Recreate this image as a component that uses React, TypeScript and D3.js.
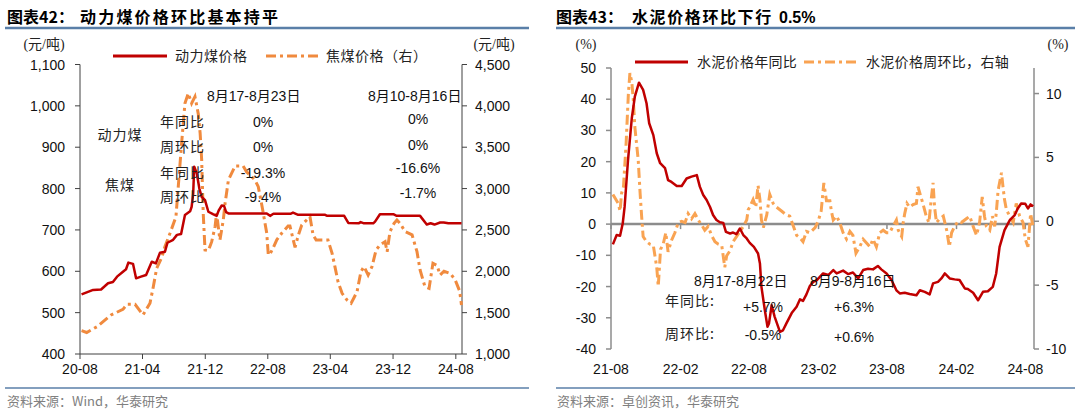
import React from 'react';
import * as d3 from 'd3';

// ---------- Left chart data (动力煤 / 焦煤) ----------
const thermalCoal: [string, number][] = [
  ['2020-08-07', 544], ['2020-09-21', 555], ['2020-10-22', 556], ['2020-11-18', 571],
  ['2020-12-07', 574], ['2020-12-23', 587], ['2021-01-15', 599], ['2021-01-27', 605],
  ['2021-02-05', 621], ['2021-02-23', 618], ['2021-03-07', 583], ['2021-03-26', 587],
  ['2021-04-15', 591], ['2021-05-07', 623], ['2021-05-23', 619], ['2021-06-08', 645],
  ['2021-06-27', 647], ['2021-07-07', 669], ['2021-07-29', 676], ['2021-08-13', 688],
  ['2021-08-29', 690], ['2021-09-13', 736], ['2021-10-03', 745], ['2021-10-09', 756],
  ['2021-10-15', 788], ['2021-10-19', 853], ['2021-10-29', 837], ['2021-11-08', 800],
  ['2021-11-17', 780], ['2021-11-30', 772], ['2021-12-13', 744], ['2021-12-31', 738],
  ['2022-01-14', 734], ['2022-01-23', 748], ['2022-02-03', 759], ['2022-02-12', 758],
  ['2022-02-20', 743], ['2022-03-01', 740], ['2022-07-28', 740], ['2022-08-10', 734],
  ['2022-08-23', 739], ['2022-10-28', 739], ['2022-11-07', 742], ['2022-11-25', 737],
  ['2023-03-10', 737], ['2023-03-20', 734], ['2023-05-25', 734], ['2023-06-10', 717],
  ['2023-07-20', 716], ['2023-07-28', 719], ['2023-08-10', 716], ['2023-09-15', 716],
  ['2023-09-22', 720], ['2023-10-11', 738], ['2023-12-02', 738], ['2023-12-15', 734],
  ['2024-03-15', 734], ['2024-04-10', 713], ['2024-04-25', 716], ['2024-05-10', 713],
  ['2024-06-01', 718], ['2024-06-15', 718], ['2024-07-03', 716], ['2024-08-23', 716],
];

const cokingCoal: [string, number][] = [
  ['2020-08-07', 1282], ['2020-08-27', 1260], ['2020-10-06', 1330], ['2020-11-30', 1472],
  ['2021-01-15', 1540], ['2021-01-31', 1601], ['2021-03-03', 1601], ['2021-04-03', 1472],
  ['2021-04-30', 1613], ['2021-05-13', 1814], ['2021-05-26', 2036], ['2021-06-16', 2177],
  ['2021-06-27', 2298], ['2021-07-17', 2460], ['2021-08-09', 2660], ['2021-08-18', 3023],
  ['2021-08-31', 3548], ['2021-09-13', 4031], ['2021-09-26', 4152], ['2021-10-09', 4031],
  ['2021-10-22', 4111], ['2021-11-04', 3900], ['2021-11-11', 3669], ['2021-11-17', 3346],
  ['2021-11-23', 2701], ['2021-11-30', 2257], ['2021-12-13', 2250], ['2021-12-26', 2358],
  ['2022-01-08', 2539], ['2022-01-14', 2701], ['2022-01-27', 2378], ['2022-02-09', 2620],
  ['2022-02-16', 2822], ['2022-03-01', 3104], ['2022-03-27', 3273], ['2022-04-27', 3273],
  ['2022-05-11', 3200], ['2022-06-12', 3104], ['2022-06-25', 3023], ['2022-07-10', 2781],
  ['2022-07-28', 2460], ['2022-08-03', 2197], ['2022-08-10', 2210], ['2022-08-23', 2290],
  ['2022-09-05', 2380], ['2022-09-24', 2460], ['2022-10-19', 2548], ['2022-10-26', 2548],
  ['2022-11-08', 2380], ['2022-11-15', 2290], ['2022-11-28', 2440], ['2022-12-11', 2560],
  ['2022-12-30', 2620], ['2023-01-12', 2660], ['2023-01-24', 2440], ['2023-02-05', 2378],
  ['2023-03-23', 2378], ['2023-04-08', 2217], ['2023-04-19', 2056], ['2023-05-01', 1874],
  ['2023-05-17', 1734], ['2023-06-05', 1653], ['2023-06-21', 1613], ['2023-07-02', 1680],
  ['2023-07-14', 1753], ['2023-07-29', 1995], ['2023-08-10', 2056], ['2023-08-26', 1955],
  ['2023-09-10', 2056], ['2023-09-26', 2258], ['2023-10-11', 2318], ['2023-10-31', 2358],
  ['2023-11-08', 2237], ['2023-11-19', 2479], ['2023-12-05', 2580], ['2023-12-16', 2620],
  ['2023-12-28', 2580], ['2024-01-17', 2479], ['2024-02-13', 2440], ['2024-03-03', 2237],
  ['2024-03-15', 2016], ['2024-04-03', 1814], ['2024-04-19', 1794], ['2024-05-04', 2097],
  ['2024-05-20', 2070], ['2024-06-01', 1955], ['2024-06-16', 2000], ['2024-07-10', 1975],
  ['2024-07-29', 1900], ['2024-08-16', 1760], ['2024-08-23', 1592],
];

const coalXDomain = ['2020-08-01', '2024-08-25'];
const coalXTicks = ['2020-08-01', '2021-04-01', '2021-12-01', '2022-08-01', '2023-04-01', '2023-12-01', '2024-08-01'];
const coalLeftTicks = [400, 500, 600, 700, 800, 900, 1000, 1100];
const coalRightTicks = [1000, 1500, 2000, 2500, 3000, 3500, 4000, 4500];

// ---------- Right chart data (水泥) ----------
const cementYoY: [string, number][] = [
  ['2021-08-06', -6.5], ['2021-08-16', -3.5], ['2021-08-25', -3.7], ['2021-09-01', 0.2],
  ['2021-09-06', 5.5], ['2021-09-15', 20.5], ['2021-09-25', 33.9], ['2021-10-03', 40.8],
  ['2021-10-14', 45.3], ['2021-10-25', 43], ['2021-11-03', 38.7], ['2021-11-10', 32.3],
  ['2021-11-21', 28.5], ['2021-11-30', 22.7], ['2021-12-09', 19.5], ['2021-12-22', 17.9],
  ['2021-12-30', 14.1], ['2022-01-08', 13.5], ['2022-01-22', 12.2], ['2022-02-04', 12.2],
  ['2022-02-17', 14.6], ['2022-03-02', 15.2], ['2022-03-16', 15.7], ['2022-03-24', 12],
  ['2022-04-02', 9.3], ['2022-04-11', 7.7], ['2022-04-20', 5.5], ['2022-04-28', 2.9],
  ['2022-05-07', 1.3], ['2022-05-16', 0.6], ['2022-05-25', 0.4], ['2022-06-01', -2.5],
  ['2022-06-12', -3], ['2022-06-20', -2.7], ['2022-06-29', -3.2], ['2022-07-08', -1.4],
  ['2022-07-17', -3.5], ['2022-07-26', -4.6], ['2022-08-03', -6], ['2022-08-14', -7.3],
  ['2022-08-25', -9.4], ['2022-08-30', -12.6], ['2022-09-03', -20.1], ['2022-09-12', -27.6],
  ['2022-09-19', -32.9], ['2022-09-23', -31.8], ['2022-09-30', -26], ['2022-10-08', -29.7],
  ['2022-10-22', -34.5], ['2022-10-30', -34], ['2022-11-08', -31.8], ['2022-11-22', -28.5],
  ['2022-12-05', -26.5], ['2022-12-14', -24.1], ['2022-12-22', -24.6], ['2022-12-31', -22.5],
  ['2023-01-09', -19.8], ['2023-01-18', -18.5], ['2023-01-27', -18], ['2023-02-13', -15.8],
  ['2023-02-27', -16.3], ['2023-03-12', -14.7], ['2023-03-21', -15.8], ['2023-04-07', -14.9],
  ['2023-04-20', -16], ['2023-05-03', -15.5], ['2023-05-17', -17.4], ['2023-05-30', -14.7],
  ['2023-06-12', -14.3], ['2023-06-25', -14.5], ['2023-07-08', -13.4], ['2023-07-17', -14.5],
  ['2023-07-31', -15.8], ['2023-08-13', -17.9], ['2023-08-26', -21.2], ['2023-09-04', -22.2],
  ['2023-09-17', -22], ['2023-09-30', -22.4], ['2023-10-18', -22.8], ['2023-10-27', -21.2],
  ['2023-11-09', -21.7], ['2023-11-22', -22.5], ['2023-12-01', -19], ['2023-12-14', -18.5],
  ['2023-12-23', -17.4], ['2024-01-01', -15.8], ['2024-01-14', -17.4], ['2024-01-27', -17.7],
  ['2024-02-09', -17.9], ['2024-02-23', -20.6], ['2024-03-02', -20.8], ['2024-03-16', -22],
  ['2024-03-29', -24.4], ['2024-04-11', -21.7], ['2024-04-24', -21.5], ['2024-05-07', -20.1],
  ['2024-05-16', -15.8], ['2024-05-25', -7.3], ['2024-06-07', -1.9], ['2024-06-21', 1.3],
  ['2024-07-04', 2.9], ['2024-07-12', 5], ['2024-07-21', 6.6], ['2024-08-01', 6.5],
  ['2024-08-08', 5.0], ['2024-08-15', 6.3], ['2024-08-22', 5.7],
];

const cementWoW: [string, number][] = [
  ['2021-08-06', 2.1], ['2021-08-12', 1.8], ['2021-08-20', 1.4], ['2021-08-25', 0.8],
  ['2021-08-29', 2.2], ['2021-09-03', 2.7], ['2021-09-10', 6.1], ['2021-09-16', 10],
  ['2021-09-20', 11.6], ['2021-09-25', 10.9], ['2021-09-29', 9.5], ['2021-10-03', 7.4],
  ['2021-10-12', 4.8], ['2021-10-17', 2.2], ['2021-10-21', 0.4], ['2021-10-25', -1.2],
  ['2021-11-03', -1.6], ['2021-11-12', -1.8], ['2021-11-21', -1.9], ['2021-11-30', -3.6],
  ['2021-12-04', -5.1], ['2021-12-10', -2.2], ['2021-12-17', -1.8], ['2021-12-24', -0.9],
  ['2021-12-30', -2.4], ['2022-01-08', -1.5], ['2022-01-17', -0.9], ['2022-01-26', -0.1],
  ['2022-02-04', 0], ['2022-02-13', -0.1], ['2022-02-21', 0.6], ['2022-03-02', 0.2],
  ['2022-03-11', 0.6], ['2022-03-20', 0.1], ['2022-03-29', -0.3], ['2022-04-06', -0.7],
  ['2022-04-15', -0.4], ['2022-04-24', -1.1], ['2022-05-03', -1.6], ['2022-05-12', -1.8],
  ['2022-05-21', -1.9], ['2022-05-29', -3.6], ['2022-06-03', -2.7], ['2022-06-12', -2.3],
  ['2022-06-20', -1.6], ['2022-06-29', -1.2], ['2022-07-08', -0.8], ['2022-07-17', -0.4],
  ['2022-07-26', 0.1], ['2022-07-30', 0.9], ['2022-08-03', 1.1], ['2022-08-12', 1.7],
  ['2022-08-19', 1.1], ['2022-08-25', 2.8], ['2022-08-30', 1.7], ['2022-09-03', 0.1],
  ['2022-09-08', -0.5], ['2022-09-17', 0.5], ['2022-09-25', 2.1], ['2022-10-04', 1.4],
  ['2022-10-13', 1.1], ['2022-10-26', 0.8], ['2022-11-08', 0.5], ['2022-11-17', 0.4],
  ['2022-12-05', -1.1], ['2022-12-14', -1.3], ['2022-12-22', -1.6], ['2022-12-31', -0.8],
  ['2023-01-09', -0.9], ['2023-01-23', -0.5], ['2023-01-31', 0], ['2023-02-08', 0.8],
  ['2023-02-15', 3.0], ['2023-02-22', 1.6], ['2023-03-03', 1.6], ['2023-03-07', 0.8],
  ['2023-03-12', 0.1], ['2023-03-21', 0.4], ['2023-03-29', -0.1], ['2023-04-07', -0.9],
  ['2023-04-16', -1.4], ['2023-04-25', -0.8], ['2023-05-03', -1.1], ['2023-05-11', -2.5],
  ['2023-05-21', -2], ['2023-05-30', -1.4], ['2023-06-08', -1.7], ['2023-06-17', -2],
  ['2023-06-25', -1.4], ['2023-07-04', -2], ['2023-07-13', -0.9], ['2023-07-22', -0.7],
  ['2023-07-31', -0.9], ['2023-08-08', -0.9], ['2023-08-17', -0.4], ['2023-08-26', 0.1],
  ['2023-08-31', -0.7], ['2023-09-09', -1.2], ['2023-09-13', -0.1], ['2023-09-17', 0.6],
  ['2023-09-23', 1.4], ['2023-09-30', 1.1], ['2023-10-09', 1.3], ['2023-10-18', 1.4],
  ['2023-10-22', 2.7], ['2023-11-04', 1.4], ['2023-11-13', 0.4], ['2023-11-20', -0.1],
  ['2023-11-26', 1.7], ['2023-12-01', 3], ['2023-12-05', 1.1], ['2023-12-10', -0.1],
  ['2023-12-19', 0.2], ['2023-12-28', 0.4], ['2024-01-06', -0.7], ['2024-01-13', -2],
  ['2024-01-19', -0.9], ['2024-01-27', -0.4], ['2024-02-05', 0], ['2024-02-14', -0.1],
  ['2024-02-27', 0.2], ['2024-03-07', 0.4], ['2024-03-16', -0.4], ['2024-03-25', -1.1],
  ['2024-04-02', -0.1], ['2024-04-09', 1.9], ['2024-04-15', 0.4], ['2024-04-20', -0.4],
  ['2024-04-29', -0.7], ['2024-05-06', 0.4], ['2024-05-12', -0.4], ['2024-05-16', 0.6],
  ['2024-05-21', 2.4], ['2024-05-30', 3.8], ['2024-06-03', 2.7], ['2024-06-07', 1.7],
  ['2024-06-12', 0.9], ['2024-06-21', 0.4], ['2024-06-30', -0.1], ['2024-07-08', 1.4],
  ['2024-07-17', 0.4], ['2024-07-26', -0.1], ['2024-08-01', -1.4], ['2024-08-08', -2.0],
  ['2024-08-15', 0.6], ['2024-08-22', -0.5],
];

const cementXDomain = ['2021-08-01', '2024-08-24'];
const cementXTicks = ['2021-08-01', '2022-02-01', '2022-08-01', '2023-02-01', '2023-08-01', '2024-02-01', '2024-08-01'];
const cementLeftTicks = [-40, -30, -20, -10, 0, 10, 20, 30, 40, 50];
const cementRightTicks = [-10, -5, 0, 5, 10];

// annotation tables
const coalRowLabels = ['年同比', '周环比', '年同比', '周环比'];
const coalThisWeek = ['0%', '0%', '-19.3%', '-9.4%'];
const coalLastWeek = ['0%', '0%', '-16.6%', '-1.7%'];
const cementThisWeek = ['+5.7%', '-0.5%'];
const cementLastWeek = ['+6.3%', '+0.6%'];

const parse = d3.timeParse('%Y-%m-%d');
const NUM = "'Liberation Sans', Arial, 'Noto Sans CJK SC', sans-serif";
const CJK = "'Noto Sans CJK SC', 'Liberation Sans', sans-serif";
const RED = '#C00000';
const ORANGE_L = '#F08A3E';
const ORANGE_R = '#F9A352';
const DASH = '10,4,3,4';

export default function App() {
  // ---- left chart scales ----
  const lx = d3.scaleTime().domain(coalXDomain.map((d) => parse(d)!)).range([80, 462]);
  const lyL = d3.scaleLinear().domain([400, 1100]).range([354, 64.5]);
  const lyR = d3.scaleLinear().domain([1000, 4500]).range([354, 64.5]);
  const lineL = d3.line<[string, number]>().x((d) => lx(parse(d[0])!)).y((d) => lyL(d[1]));
  const lineR = d3.line<[string, number]>().x((d) => lx(parse(d[0])!)).y((d) => lyR(d[1]));
  const fmt = d3.format(',');
  const tf = d3.timeFormat('%y-%m');

  // ---- right chart scales ----
  const rx = d3.scaleTime().domain(cementXDomain.map((d) => parse(d)!)).range([611, 1034]);
  const ryL = d3.scaleLinear().domain([-40, 50]).range([349, 68]);
  const ryR = d3.scaleLinear().domain([-10, 12]).range([349, 68]);
  const lineYoY = d3.line<[string, number]>().x((d) => rx(parse(d[0])!)).y((d) => ryL(d[1]));
  const lineWoW = d3.line<[string, number]>().x((d) => rx(parse(d[0])!)).y((d) => ryR(d[1]));

  const axisL = '#404040';
  const axisR = '#8C8C8C';

  return (
    <svg width={1080} height={415} style={{ position: 'absolute', left: 0, top: 0, background: '#fff' }}>
      <rect x={0} y={0} width={1080} height={415} fill="#fff" />
      {/* ================= LEFT PANEL ================= */}
      <text x={7} y={23} fontFamily={CJK} fontWeight={700} fontSize={16} fill="#000">图表42：</text>
      <text x={80} y={23} fontFamily={CJK} fontWeight={700} fontSize={16} letterSpacing={2.2} fill="#000">动力煤价格环比基本持平</text>
      <line x1={5} x2={529} y1={28} y2={28} stroke="#5A7FA8" strokeWidth={2.5} />

      <text x={44} y={49} textAnchor="middle" fontFamily="'Liberation Serif', 'Noto Sans CJK SC', serif" fontSize={14} fill="#222">(元/吨)</text>
      <text x={494} y={49} textAnchor="middle" fontFamily="'Liberation Serif', 'Noto Sans CJK SC', serif" fontSize={14} fill="#222">(元/吨)</text>

      {/* legend */}
      <line x1={113} x2={167} y1={56} y2={56} stroke={RED} strokeWidth={3} />
      <text x={175} y={61} fontFamily={CJK} fontSize={14} fill="#222" letterSpacing={0.5}>动力煤价格</text>
      <line x1={266} x2={319} y1={56} y2={56} stroke={ORANGE_L} strokeWidth={3} strokeDasharray={DASH} />
      <text x={326} y={61} fontFamily={CJK} fontSize={14} fill="#222" letterSpacing={0.5}>焦煤价格（右）</text>

      {/* axes */}
      <line x1={80} x2={80} y1={64.5} y2={354} stroke={axisL} strokeWidth={1} />
      <line x1={462} x2={462} y1={64.5} y2={354} stroke={axisL} strokeWidth={1} />
      <line x1={80} x2={462} y1={354} y2={354} stroke={axisL} strokeWidth={1} />
      {coalLeftTicks.map((t) => (
        <g key={'ll' + t}>
          <line x1={75} x2={80} y1={lyL(t)} y2={lyL(t)} stroke={axisL} />
          <text x={65} y={lyL(t) + 5} textAnchor="end" fontFamily={NUM} fontSize={14} fill="#111">{fmt(t)}</text>
        </g>
      ))}
      {coalRightTicks.map((t) => (
        <g key={'lr' + t}>
          <line x1={462} x2={467} y1={lyR(t)} y2={lyR(t)} stroke={axisL} />
          <text x={475} y={lyR(t) + 5} textAnchor="start" fontFamily={NUM} fontSize={14} fill="#111">{fmt(t)}</text>
        </g>
      ))}
      {coalXTicks.map((t) => {
        const x = lx(parse(t)!);
        return (
          <g key={'lx' + t}>
            <line x1={x} x2={x} y1={354} y2={359} stroke={axisL} />
            <text x={x} y={374} textAnchor="middle" fontFamily={NUM} fontSize={14} fill="#111">{tf(parse(t)!)}</text>
          </g>
        );
      })}

      {/* series */}
      <path d={lineR(cokingCoal)!} fill="none" stroke={ORANGE_L} strokeWidth={3} strokeDasharray={DASH} />
      <path d={lineL(thermalCoal)!} fill="none" stroke={RED} strokeWidth={2.5} strokeLinejoin="round" />

      {/* annotations */}
      <text x={207} y={101} fontFamily={NUM} fontSize={14} fill="#111">8月17-8月23日</text>
      <text x={368} y={101} fontFamily={NUM} fontSize={14} fill="#111">8月10-8月16日</text>
      <text x={120} y={140} textAnchor="middle" fontFamily={CJK} fontSize={14} fill="#222" letterSpacing={1}>动力煤</text>
      <text x={120} y={190} textAnchor="middle" fontFamily={CJK} fontSize={14} fill="#222" letterSpacing={1}>焦煤</text>
      {coalRowLabels.map((lab, i) => (
        <text key={'rl' + i} x={160} y={[127, 152, 178, 202][i]} fontFamily={CJK} fontSize={14} fill="#222" letterSpacing={1}>{lab}</text>
      ))}
      {coalThisWeek.map((v, i) => (
        <text key={'tw' + i} x={263} y={[127, 152, 178, 202][i]} textAnchor="middle" fontFamily={NUM} fontSize={14} fill="#111">{v}</text>
      ))}
      {coalLastWeek.map((v, i) => (
        <text key={'lw' + i} x={418} y={[124, 150, 173, 198][i]} textAnchor="middle" fontFamily={NUM} fontSize={14} fill="#111">{v}</text>
      ))}

      <line x1={5} x2={529} y1={388} y2={388} stroke="#5A7FA8" strokeWidth={1.5} />
      <text x={7} y={406} fontFamily={CJK} fontSize={13} fill="#808080">资料来源：Wind，华泰研究</text>

      {/* ================= RIGHT PANEL ================= */}
      <text x={556} y={23} fontFamily={CJK} fontWeight={700} fontSize={16} fill="#000">图表43：</text>
      <text x={632} y={23} fontFamily={CJK} fontWeight={700} fontSize={16} letterSpacing={1.6} fill="#000">水泥价格环比下行</text>
      <text x={779} y={23} fontFamily={NUM} fontWeight={700} fontSize={16} fill="#000">0.5%</text>
      <line x1={556} x2={1075} y1={28} y2={28} stroke="#5A7FA8" strokeWidth={2.5} />

      <text x={586} y={49} textAnchor="middle" fontFamily="'Liberation Serif', serif" fontSize={14} fill="#222">(%)</text>
      <text x={1058} y={49} textAnchor="middle" fontFamily="'Liberation Serif', serif" fontSize={14} fill="#222">(%)</text>

      {/* legend */}
      <line x1={635} x2={688} y1={62} y2={62} stroke={RED} strokeWidth={3} />
      <text x={697} y={67} fontFamily={CJK} fontSize={14} fill="#222" letterSpacing={0.3}>水泥价格年同比</text>
      <line x1={804} x2={857} y1={62} y2={62} stroke={ORANGE_R} strokeWidth={3} strokeDasharray={DASH} />
      <text x={866} y={67} fontFamily={CJK} fontSize={14} fill="#222" letterSpacing={0.3}>水泥价格周环比，右轴</text>

      {/* axes */}
      <line x1={611} x2={611} y1={68} y2={349} stroke={axisR} strokeWidth={1.5} />
      <line x1={1034} x2={1034} y1={68} y2={349} stroke={axisR} strokeWidth={1.5} />
      <line x1={611} x2={1034} y1={ryL(0)} y2={ryL(0)} stroke={axisR} strokeWidth={2.5} />
      {cementLeftTicks.map((t) => (
        <g key={'rl' + t}>
          <line x1={606} x2={611} y1={ryL(t)} y2={ryL(t)} stroke={axisR} strokeWidth={1.5} />
          <text x={596} y={ryL(t) + 5} textAnchor="end" fontFamily={NUM} fontSize={14} fill="#111">{t}</text>
        </g>
      ))}
      {cementRightTicks.map((t) => (
        <g key={'rr' + t}>
          <line x1={1034} x2={1039} y1={ryR(t)} y2={ryR(t)} stroke={axisR} strokeWidth={1.5} />
          <text x={1046} y={ryR(t) + 5} textAnchor="start" fontFamily={NUM} fontSize={14} fill="#111">{t}</text>
        </g>
      ))}
      {cementXTicks.map((t) => {
        const x = rx(parse(t)!);
        return (
          <g key={'rx' + t}>
            <line x1={x} x2={x} y1={ryL(0)} y2={ryL(0) + 5} stroke={axisR} strokeWidth={1.5} />
            <text x={x} y={374} textAnchor="middle" fontFamily={NUM} fontSize={14} fill="#111">{tf(parse(t)!)}</text>
          </g>
        );
      })}

      {/* series */}
      <path d={lineWoW(cementWoW)!} fill="none" stroke={ORANGE_R} strokeWidth={3} strokeDasharray={DASH} />
      <path d={lineYoY(cementYoY)!} fill="none" stroke={RED} strokeWidth={2.5} strokeLinejoin="round" />

      {/* annotations */}
      <text x={694} y={286} fontFamily={NUM} fontSize={14} fill="#111">8月17-8月22日</text>
      <text x={810} y={286} fontFamily={NUM} fontSize={14} fill="#111">8月9-8月16日</text>
      <text x={665} y={306} fontFamily={CJK} fontSize={14} fill="#222" letterSpacing={1}>年同比:</text>
      <text x={665} y={339} fontFamily={CJK} fontSize={14} fill="#222" letterSpacing={1}>周环比:</text>
      {cementThisWeek.map((v, i) => (
        <text key={'ctw' + i} x={763} y={[312, 340][i]} textAnchor="middle" fontFamily={NUM} fontSize={14} fill="#111">{v}</text>
      ))}
      {cementLastWeek.map((v, i) => (
        <text key={'clw' + i} x={854} y={[312, 342][i]} textAnchor="middle" fontFamily={NUM} fontSize={14} fill="#111">{v}</text>
      ))}

      <line x1={556} x2={1075} y1={388} y2={388} stroke="#5A7FA8" strokeWidth={1.5} />
      <text x={557} y={406} fontFamily={CJK} fontSize={13} fill="#808080">资料来源：卓创资讯，华泰研究</text>
    </svg>
  );
}
